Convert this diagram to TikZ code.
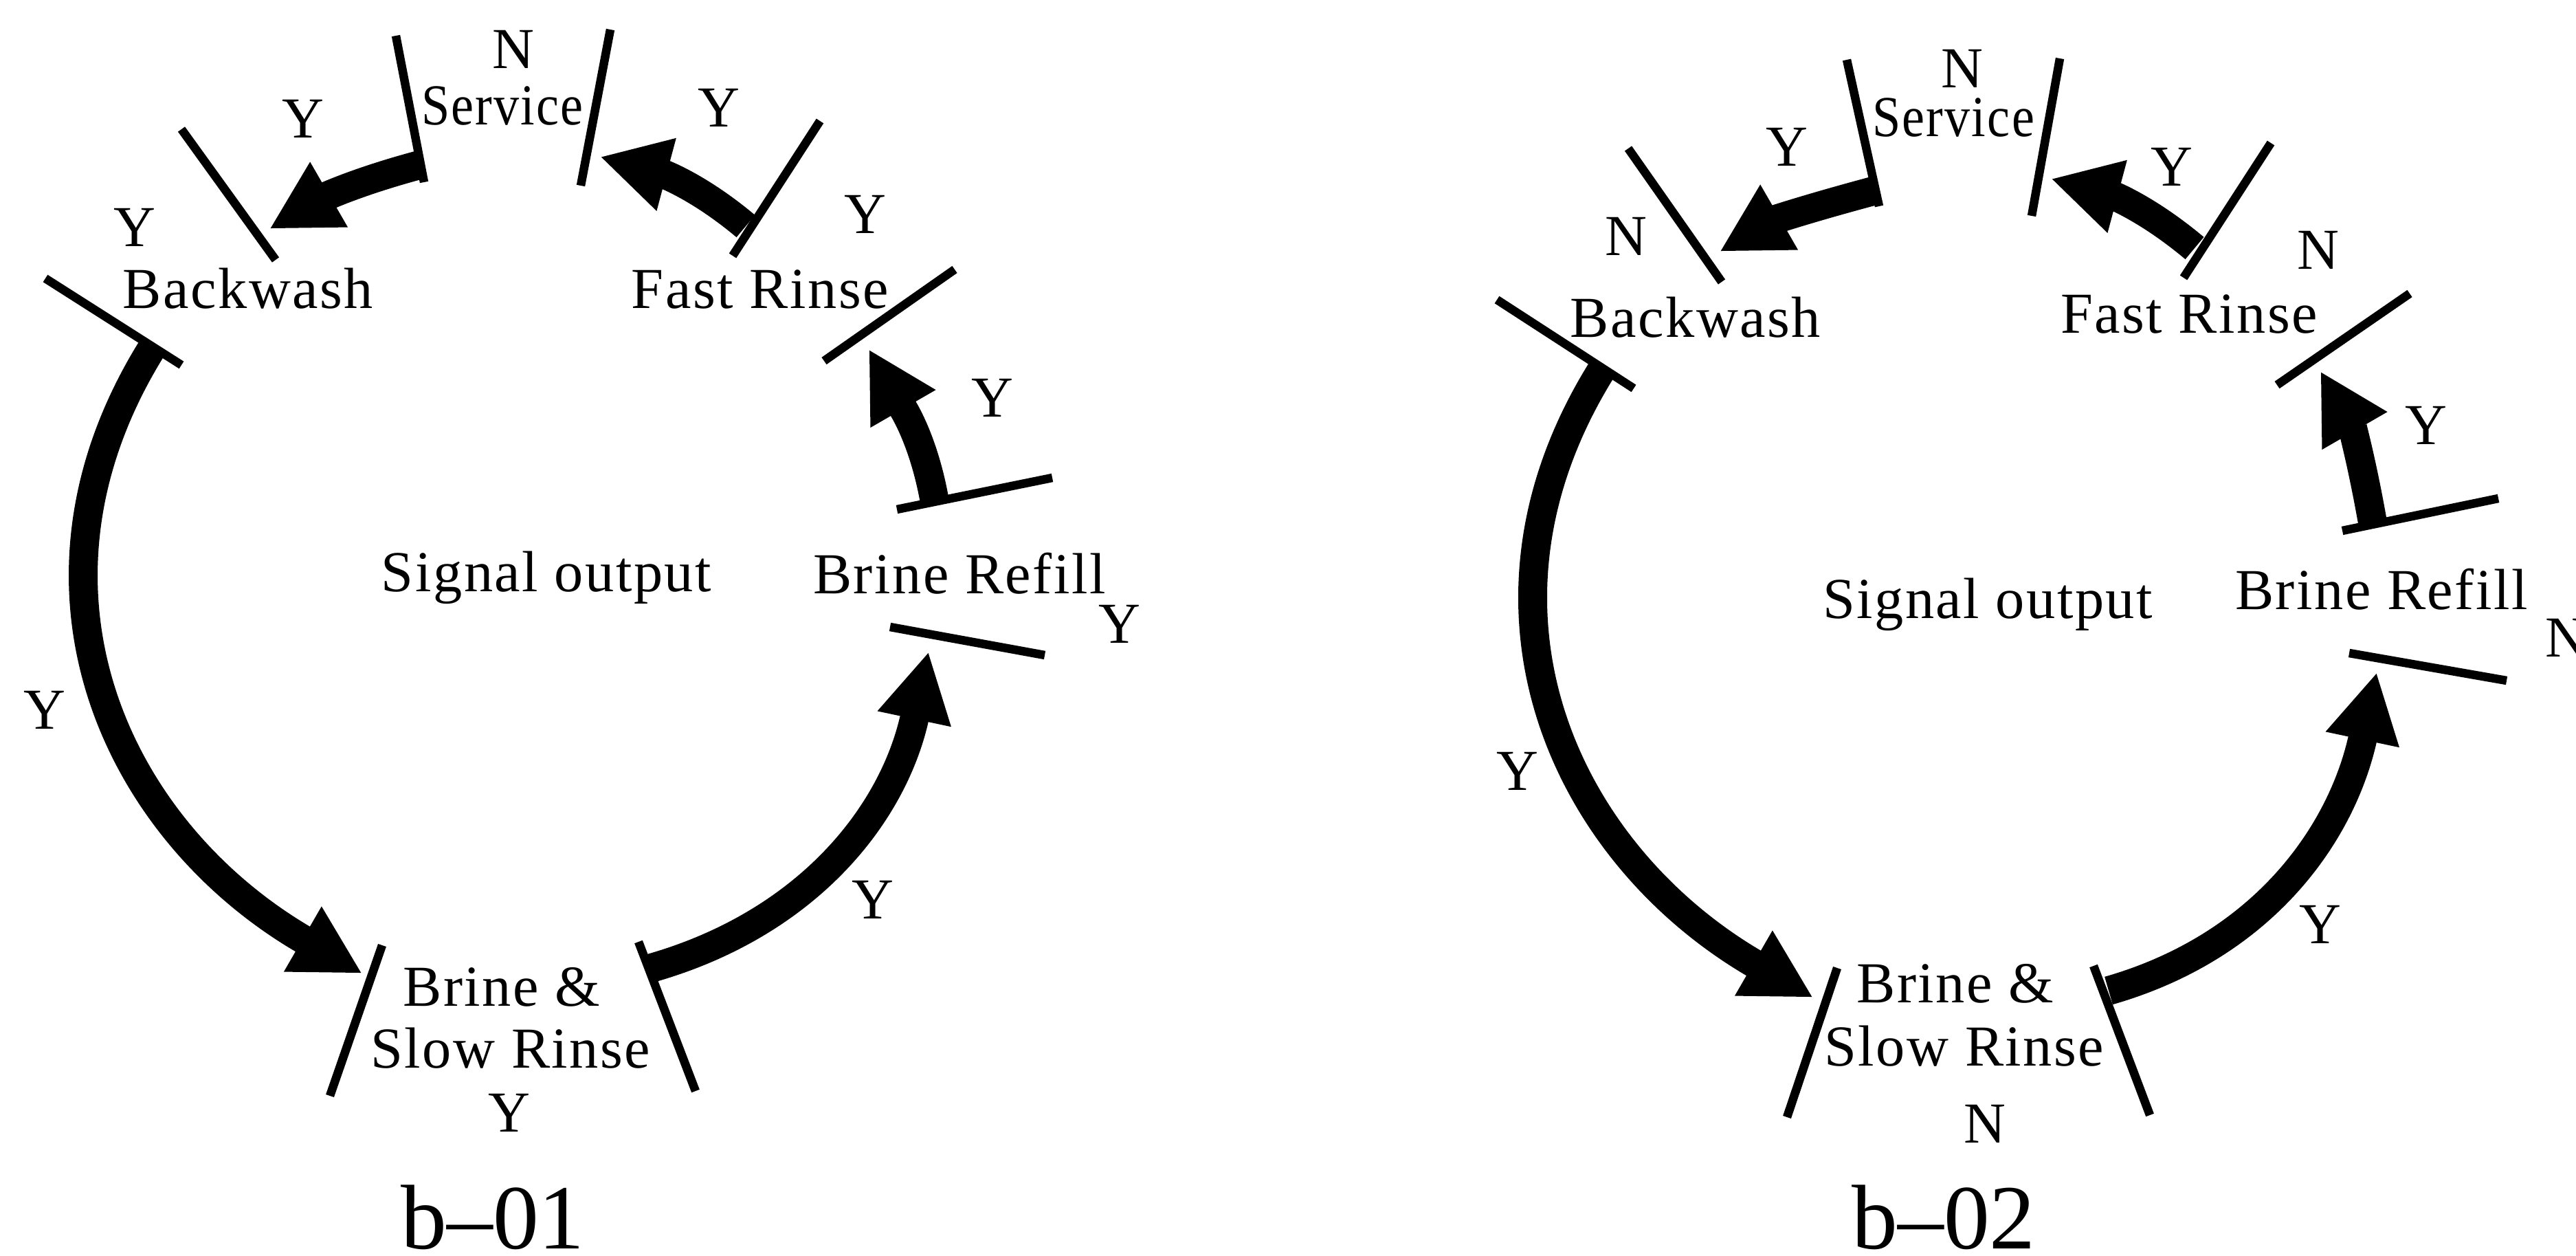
\documentclass[tikz,border=0pt]{standalone}
\usepackage{fontspec}
\setmainfont{Liberation Serif}[LetterSpace=3]
\newfontfamily\capfont{Liberation Serif}[Ligatures=TeX]
\usetikzlibrary{arrows.meta}

\begin{document}
\begin{tikzpicture}[
    flow/.style={line width=4.2mm,-{Triangle[length=10mm,width=10.2mm]}},
    bar/.style={line width=1.25mm},
    figlabel/.style={font=\capfont\fontsize{38}{44}\selectfont}]
\useasboundingbox (0,0) rectangle (37.48,18.26);

\begin{scope}[every node/.style={inner sep=0pt,anchor=base,font=\fontsize{24}{28}\selectfont}]
    \draw [bar] (5.76,17.74) -- (6.17,15.61);
    \draw [bar] (8.88,17.83) -- (8.45,15.56);
    \draw [bar] (2.64,16.38) -- (4.01,14.48);
    \draw [bar] (0.66,14.21) -- (2.64,12.95);
    \draw [bar] (11.93,16.50) -- (10.66,14.54);
    \draw [bar] (13.89,14.34) -- (11.99,13.01);
    \draw [bar] (13.05,10.85) -- (15.31,11.31);
    \draw [bar] (12.95,9.14) -- (15.20,8.73);
    \draw [bar] (5.56,4.51) -- (4.80,2.32);
    \draw [bar] (9.29,4.56) -- (10.12,2.39);

    \node (svn1) at (7.47,17.26) {N};
    \node (sv1) at (7.31,16.44) {\scalebox{0.88}[1]{Service}};
    \node (sbw1) at (4.41,16.25) {Y};
    \node (bwn1) at (1.96,14.67) {Y};
    \node (bw1) at (3.61,13.77) {Backwash};
    \node (frs1) at (10.46,16.41) {Y};
    \node (frn1) at (12.59,14.86) {Y};
    \node (fr1) at (11.06,13.77) {Fast Rinse};
    \node (rff1) at (14.44,12.20) {Y};
    \node (so1) at (7.95,9.66) {Signal output};
    \node (rf1) at (13.96,9.63) {Brine Refill};
    \node (rfn1) at (16.29,8.91) {Y};
    \node (bwb1) at (0.65,7.66) {Y};
    \node (bsr1) at (12.70,4.90) {Y};
    \node (bs1) at (7.30,3.63) {Brine \&};
    \node (sr1) at (7.43,2.73) {Slow Rinse};
    \node (bsn1) at (7.41,1.80) {Y};
    \node [figlabel] (fig1) at (7.17,0.10) {b\textendash01};

    \coordinate (svo1) at (6.10,15.86);
    \coordinate (bwi1) at (3.92,14.93);
    \coordinate (fro1) at (10.85,14.97);
    \coordinate (svi1) at (8.73,15.98);
    \coordinate (rfo1) at (13.60,10.96);
    \coordinate (fri1) at (12.64,13.18);
    \coordinate (bwo1) at (2.22,13.21);
    \coordinate (bsi1) at (5.27,4.10);
    \coordinate (bso1) at (9.48,4.18);
    \coordinate (rfi1) at (13.51,8.78);

    \draw [flow] (svo1) to [out=195,in=30] (bwi1);
    \draw [flow] (fro1) to [out=140,in=-15] (svi1);
    \draw [flow] (rfo1) to [out=100,in=-60] (fri1);
    \draw [flow] (bwo1) to [out=238,in=150,looseness=1.1] (bsi1);
    \draw [flow] (bso1) to [out=16,in=258] (rfi1);
\end{scope}

\begin{scope}[every node/.style={inner sep=0pt,anchor=base,font=\fontsize{24}{28}\selectfont}]
    \draw [bar] (26.87,17.39) -- (27.34,15.26);
    \draw [bar] (29.97,17.41) -- (29.56,15.12);
    \draw [bar] (23.69,16.10) -- (25.05,14.16);
    \draw [bar] (21.78,13.90) -- (23.77,12.61);
    \draw [bar] (33.04,16.18) -- (31.77,14.22);
    \draw [bar] (35.06,13.99) -- (33.13,12.66);
    \draw [bar] (34.08,10.54) -- (36.35,11.01);
    \draw [bar] (34.18,8.76) -- (36.47,8.36);
    \draw [bar] (26.73,4.18) -- (26.00,2.01);
    \draw [bar] (30.46,4.21) -- (31.28,2.04);

    \node (svn2) at (28.55,16.98) {N};
    \node (sv2) at (28.42,16.27) {\scalebox{0.88}[1]{Service}};
    \node (sbw2) at (26.00,15.84) {Y};
    \node (bwn2) at (23.66,14.54) {N};
    \node (bw2) at (24.67,13.36) {Backwash};
    \node (frs2) at (31.60,15.55) {Y};
    \node (frn2) at (33.73,14.34) {N};
    \node (fr2) at (31.85,13.41) {Fast Rinse};
    \node (rff2) at (35.30,11.80) {Y};
    \node (so2) at (28.92,9.27) {Signal output};
    \node (rf2) at (34.65,9.40) {Brine Refill};
    \node (rfn2) at (37.34,8.71) {N};
    \node (bwb2) at (22.08,6.77) {Y};
    \node (bsr2) at (33.76,4.54) {Y};
    \node (bs2) at (28.45,3.68) {Brine \&};
    \node (sr2) at (28.58,2.76) {Slow Rinse};
    \node (bsn2) at (28.88,1.64) {N};
    \node [figlabel] (fig2) at (28.28,0.10) {b\textendash02};

    \coordinate (svo2) at (27.25,15.48);
    \coordinate (bwi2) at (25.02,14.60);
    \coordinate (fro2) at (31.93,14.65);
    \coordinate (svi2) at (29.84,15.66);
    \coordinate (rfo2) at (34.52,10.66);
    \coordinate (fri2) at (33.76,12.86);
    \coordinate (bwo2) at (23.31,12.89);
    \coordinate (bsi2) at (26.38,3.75);
    \coordinate (bso2) at (30.68,3.85);
    \coordinate (rfi2) at (34.58,8.48);

    \draw [flow] (svo2) to [out=195,in=30] (bwi2);
    \draw [flow] (fro2) to [out=140,in=-15] (svi2);
    \draw [flow] (rfo2) to [out=100,in=-60] (fri2);
    \draw [flow] (bwo2) to [out=238,in=150,looseness=1.1] (bsi2);
    \draw [flow] (bso2) to [out=16,in=258] (rfi2);
\end{scope}

\end{tikzpicture}
\end{document}
